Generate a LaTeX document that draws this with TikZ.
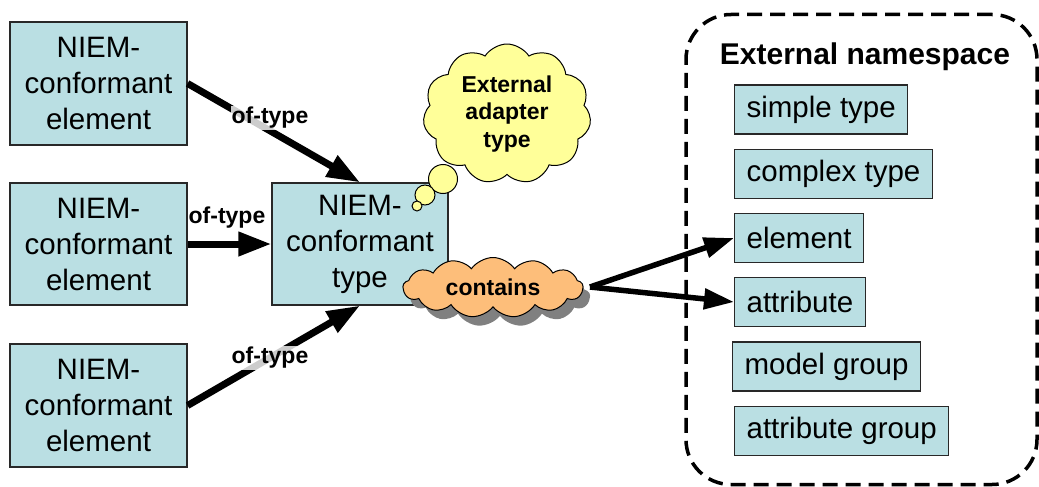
\documentclass[tikz,border=0pt]{standalone}
\usepackage{fontspec}
\setmainfont{Liberation Sans}
\usetikzlibrary{arrows.meta,shapes.symbols,shadows}
\definecolor{boxfill}{RGB}{186,223,227}
\definecolor{thoughtfill}{RGB}{255,255,153}
\definecolor{orangefill}{RGB}{253,190,122}
\definecolor{boxline}{RGB}{40,40,40}
\tikzset{
  niembox/.style={draw=boxline, line width=1.2pt, fill=boxfill, align=center,
    font=\fontsize{29.5}{36}\selectfont, inner sep=0pt},
  extbox/.style={draw=boxline, line width=1.2pt, fill=boxfill, anchor=west,
    font=\fontsize{29.5}{36}\selectfont, inner xsep=12pt, inner ysep=0pt,
    minimum height=49pt},
  lbl/.style={font=\bfseries\fontsize{23}{27}\selectfont, inner sep=1pt},
  lblbg/.style={lbl, fill=white, fill opacity=0.8, text opacity=1},
  bigarrow/.style={line width=7pt, -{Triangle[length=33pt,width=23pt]}},
  midarrow/.style={line width=5.5pt, -{Triangle[length=30pt,width=20pt]}},
}
\begin{document}
\begin{tikzpicture}[x=1pt,y=-1pt]
\useasboundingbox (0,0) rectangle (1039,487);
% left elements
\node[niembox, minimum width=177pt, minimum height=123pt] (e1) at (98.5,83.5) {NIEM-\\conformant\\element};
\node[niembox, minimum width=177pt, minimum height=122pt] (e2) at (98.5,244) {NIEM-\\conformant\\element};
\node[niembox, minimum width=177pt, minimum height=123pt] (e3) at (98.5,405.5) {NIEM-\\conformant\\element};
% center type
\node[niembox, minimum width=176pt, minimum height=122pt] (t) at (360,244) {NIEM-\\conformant\\type};
% thought cloud
\node[cloud, cloud ignores aspect, draw=black, line width=1pt, fill=thoughtfill, cloud puffs=11, cloud puff arc=115,
      minimum width=168pt, minimum height=140pt, align=center, inner sep=0pt,
      font=\bfseries\fontsize{23}{27.5}\selectfont] (adapter) at (507,114) {External\\adapter\\type};
\node[circle, draw=black, line width=1pt, fill=thoughtfill, minimum size=29pt, inner sep=0pt] (b1) at (443,179) {};
\node[circle, draw=black, line width=1pt, fill=thoughtfill, minimum size=20pt, inner sep=0pt] (b2) at (425,195) {};
\node[circle, draw=black, line width=1pt, fill=thoughtfill, minimum size=10pt, inner sep=0pt] (b3) at (417,206) {};
% contains cloud
\node[cloud, cloud ignores aspect, draw=black, line width=1pt, fill=orangefill, cloud puffs=13, cloud puff arc=110,
      minimum width=180pt, minimum height=60pt, inner sep=0pt,
      drop shadow={shadow xshift=7pt, shadow yshift=-9pt, fill=gray, opacity=1},
      font=\bfseries\fontsize{23}{27}\selectfont] (c) at (493,287.5) {contains};
\coordinate (cs) at (590,287);
% namespace region
\node[draw=black, line width=3.5pt, dash pattern=on 15pt off 8pt, rounded corners=45pt,
      minimum width=351pt, minimum height=470pt] (ns) at (861.5,249.5) {};
\node[font=\bfseries\fontsize{30}{36}\selectfont, inner sep=0pt] (title) at (865,57) {External namespace};
\node[extbox] (r1) at (734,109.5) {simple type};
\node[extbox] (r2) at (734,174) {complex type};
\node[extbox] (r3) at (734,238) {element};
\node[extbox] (r4) at (734,302) {attribute};
\node[extbox] (r5) at (732,366.5) {model group};
\node[extbox] (r6) at (734,431) {attribute group};
% connectors
\draw[bigarrow] (e1.east) -- (t.north);
\draw[bigarrow] (e2.east) -- (t.west);
\draw[bigarrow] (e3.east) -- (t.south);
\draw[midarrow] (cs) -- (r3.west);
\draw[midarrow] (cs) -- (r4.west);
% labels
\node[lblbg] (l1) at (270,118) {of-type};
\node[lbl] (l2) at (227,218) {of-type};
\node[lblbg] (l3) at (270,358) {of-type};
\end{tikzpicture}
\end{document}
